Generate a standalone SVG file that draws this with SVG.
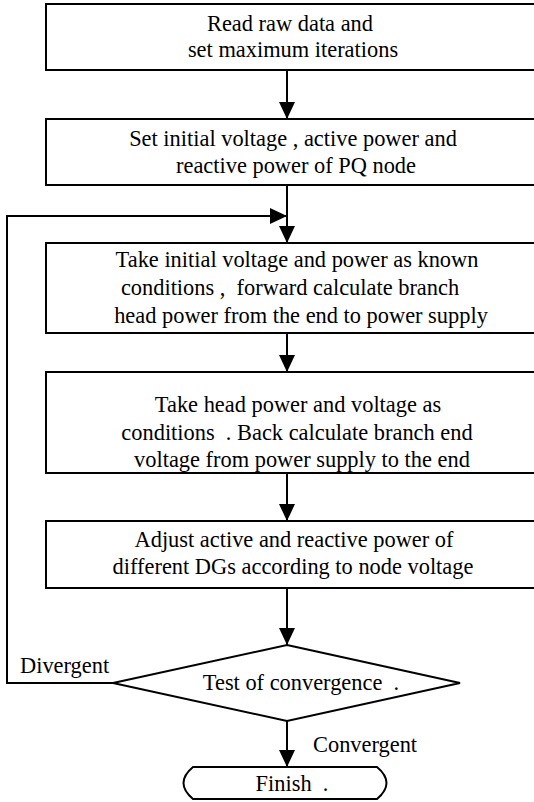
<svg xmlns="http://www.w3.org/2000/svg" width="534" height="802" viewBox="0 0 534 802">
<style>
.box{fill:#fff;stroke:#000;stroke-width:2}
.t{font-family:'Liberation Serif','DejaVu Serif',serif;font-size:22.4px;fill:#000;text-anchor:middle}
.ts{font-family:'Liberation Serif','DejaVu Serif',serif;font-size:22.4px;fill:#000}
.c{fill:none;stroke:#000;stroke-width:2}
</style>
<defs>
<marker id="ah" markerUnits="userSpaceOnUse" viewBox="0 0 17 16" markerWidth="17" markerHeight="16" refX="17" refY="8" orient="auto">
<path d="M0,0 L17,8 L0,16 Z" fill="#000"/>
</marker>
</defs>
<rect width="534" height="802" fill="#fff"/>
<g id="connectors">
<path class="c" d="M287,70 V119" marker-end="url(#ah)"/>
<path class="c" d="M287,185 V243" marker-end="url(#ah)"/>
<path class="c" d="M113,683 H7 V216 H287" marker-end="url(#ah)"/>
<path class="c" d="M287,333 V372" marker-end="url(#ah)"/>
<path class="c" d="M287,473 V521" marker-end="url(#ah)"/>
<path class="c" d="M287,588 V645" marker-end="url(#ah)"/>
<path class="c" d="M287,721 V767" marker-end="url(#ah)"/>
<text class="ts" x="20" y="673">Divergent</text>
<text class="ts" x="313" y="752">Convergent</text>
</g>
<g id="n1">
<rect class="box" x="46" y="4" width="500" height="66"/>
<text class="t" x="290" y="31">Read raw data and</text>
<text class="t" x="293" y="57">set maximum iterations</text>
</g>
<g id="n2">
<rect class="box" x="46" y="119" width="500" height="66"/>
<text class="t" x="293" y="146">Set initial voltage , active power and</text>
<text class="t" x="296" y="173">reactive power of PQ node</text>
</g>
<g id="n3">
<rect class="box" x="46" y="243" width="500" height="90"/>
<text class="t" x="297" y="267">Take initial voltage and power as known</text>
<text class="t" x="290" y="295" xml:space="preserve">conditions ,  forward calculate branch</text>
<text class="t" x="301" y="323">head power from the end to power supply</text>
</g>
<g id="n4">
<rect class="box" x="46" y="372" width="500" height="101"/>
<text class="t" x="298" y="412">Take head power and voltage as</text>
<text class="t" x="297" y="440" xml:space="preserve">conditions  . Back calculate branch end</text>
<text class="t" x="302" y="467">voltage from power supply to the end</text>
</g>
<g id="n5">
<rect class="box" x="46" y="521" width="500" height="67"/>
<text class="t" x="294" y="547">Adjust active and reactive power of</text>
<text class="t" x="293" y="574">different DGs according to node voltage</text>
</g>
<g id="n6">
<polygon class="box" points="287,645 460,683 287,721 113,683"/>
<text class="t" x="301" y="690" xml:space="preserve">Test of convergence  .</text>
</g>
<g id="n7">
<path class="box" d="M193,767 H377 Q396,783 377,799 H193 Q174,783 193,767 Z"/>
<text class="t" x="292" y="791" xml:space="preserve">Finish  .</text>
</g>
</svg>
